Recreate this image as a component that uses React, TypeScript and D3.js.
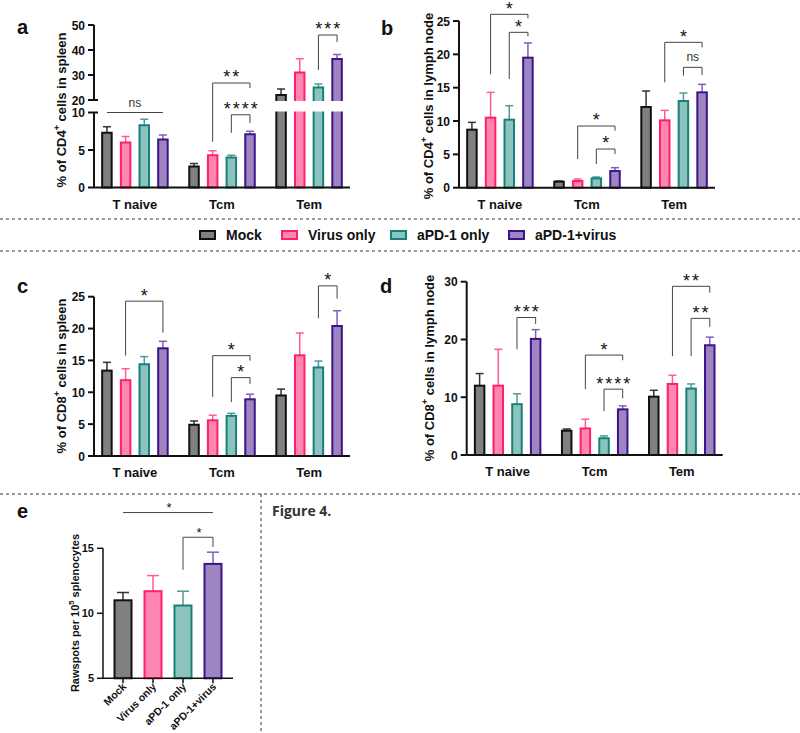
import React from "react";
import * as d3 from "d3";

const FONT = "'Liberation Sans', Arial, Helvetica, sans-serif";

// treatment groups and T cell subsets
const groups = ["Mock", "Virus only", "aPD-1 only", "aPD-1+virus"];
const subsets = ["T naive", "Tcm", "Tem"];

const fills = ["#808080", "#ff85b3", "#8cc3bf", "#9e85c2"];
const strokes = ["#111111", "#ff1f6b", "#18807a", "#3b1488"];
const errColors = ["#333333", "#ff5c92", "#4a9c97", "#7e60b8"];

// a: % of CD4+ cells in spleen  [subset][group]
const cd4SpleenMean = [
  [7.3, 6.0, 8.3, 6.4],
  [2.8, 4.3, 4.0, 7.1],
  [22.0, 31.0, 25.0, 36.4],
];
const cd4SpleenSem = [
  [0.8, 0.8, 0.8, 0.6],
  [0.4, 0.6, 0.3, 0.4],
  [2.4, 5.5, 1.4, 1.8],
];

// b: % of CD4+ cells in lymph node
const cd4LnMean = [
  [8.7, 10.5, 10.2, 19.5],
  [0.9, 1.0, 1.4, 2.5],
  [12.1, 10.1, 13.0, 14.3],
];
const cd4LnSem = [
  [1.1, 3.8, 2.1, 2.2],
  [0.1, 0.3, 0.2, 0.5],
  [2.4, 1.5, 1.2, 1.2],
];

// c: % of CD8+ cells in spleen
const cd8SpleenMean = [
  [13.4, 11.9, 14.4, 16.9],
  [4.9, 5.6, 6.3, 8.9],
  [9.5, 15.8, 13.9, 20.4],
];
const cd8SpleenSem = [
  [1.3, 1.8, 1.2, 1.1],
  [0.6, 0.8, 0.4, 0.8],
  [1.0, 3.5, 1.0, 2.4],
];

// d: % of CD8+ cells in lymph node
const cd8LnMean = [
  [12.0, 12.0, 8.8, 20.1],
  [4.2, 4.6, 2.9, 7.9],
  [10.1, 12.3, 11.5, 19.0],
];
const cd8LnSem = [
  [2.1, 6.3, 1.8, 1.6],
  [0.3, 1.6, 0.4, 0.6],
  [1.1, 1.5, 0.8, 1.4],
];

// e: rawspots per 10^5 splenocytes
const rawspotsMean = [11.0, 11.7, 10.6, 13.8];
const rawspotsSem = [0.6, 1.2, 1.1, 0.9];

// significance brackets (values in data units)
type Sig = { sub: number; from: number; to: number; at: number; legL: number; legR: number; label: string };

const cd4SpleenSig: Sig[] = [
  { sub: 0, from: 0, to: 3, at: 10, legL: 10, legR: 10, label: "ns" },
  { sub: 1, from: 1, to: 3, at: 26.8, legL: 6.1, legR: 24.8, label: "**" },
  { sub: 1, from: 2, to: 3, at: 9.7, legL: 7.3, legR: 8.6, label: "****" },
  { sub: 2, from: 2, to: 3, at: 46, legL: 32, legR: 43.2, label: "***" },
];
const cd4LnSig: Sig[] = [
  { sub: 0, from: 1, to: 3, at: 26.0, legL: 17.0, legR: 25.4, label: "*" },
  { sub: 0, from: 2, to: 3, at: 23.3, legL: 16.3, legR: 22.7, label: "*" },
  { sub: 1, from: 1, to: 3, at: 9.25, legL: 4.3, legR: 8.55, label: "*" },
  { sub: 1, from: 2, to: 3, at: 5.8, legL: 3.55, legR: 5.05, label: "*" },
  { sub: 2, from: 1, to: 3, at: 21.8, legL: 15.8, legR: 21.05, label: "*" },
  { sub: 2, from: 2, to: 3, at: 18.05, legL: 16.8, legR: 16.9, label: "ns" },
];
const cd8SpleenSig: Sig[] = [
  { sub: 0, from: 1, to: 3, at: 24.3, legL: 15.75, legR: 19.35, label: "*" },
  { sub: 1, from: 1, to: 3, at: 15.75, legL: 9.3, legR: 14.96, label: "*" },
  { sub: 1, from: 2, to: 3, at: 12.3, legL: 8.45, legR: 11.3, label: "*" },
  { sub: 2, from: 2, to: 3, at: 26.7, legL: 21.6, legR: 24.7, label: "*" },
];
const cd8LnSig: Sig[] = [
  { sub: 0, from: 2, to: 3, at: 23.8, legL: 18.3, legR: 22.7, label: "***" },
  { sub: 1, from: 1, to: 3, at: 17.3, legL: 11.4, legR: 16.4, label: "*" },
  { sub: 1, from: 2, to: 3, at: 11.4, legL: 7.6, legR: 9.8, label: "****" },
  { sub: 2, from: 1, to: 3, at: 29.2, legL: 17.1, legR: 28.1, label: "**" },
  { sub: 2, from: 2, to: 3, at: 23.65, legL: 17.1, legR: 22.2, label: "**" },
];
const rawspotsSig: Sig[] = [
  { sub: 0, from: 0, to: 3, at: 17.75, legL: 17.75, legR: 17.75, label: "*" },
  { sub: 0, from: 2, to: 3, at: 15.85, legL: 13.35, legR: 15.1, label: "*" },
];

const AXIS_W = 256;

function SigLabel({ x, y, label, size }: { x: number; y: number; label: string; size: number }) {
  if (label === "ns") {
    return (
      <text x={x} y={y + 4} textAnchor="middle" fontSize={12} fill="#333" fontFamily={FONT}>
        ns
      </text>
    );
  }
  // asterisks sit high in the em box, push baseline down
  return (
    <text x={x + 1} y={y + size * 0.58} textAnchor="middle" fontSize={size} fill="#111"
      fontFamily={FONT} letterSpacing={size > 14 ? 2 : 0}>
      {label}
    </text>
  );
}

interface PanelProps {
  x0: number;
  y: (v: number) => number;
  segments: [number, number][];
  ticks: number[];
  mean: number[][];
  sem: number[][];
  sig: Sig[];
  gap?: [number, number];
  labelX: number;
  labelCenter: number;
  labelA: string;
  labelB: string;
}

function Panel(p: PanelProps) {
  const xs = d3.scalePoint<string>().domain(subsets).range([p.x0, p.x0 + AXIS_W]).padding(0.47);
  const xo = d3.scalePoint<string>().domain(groups).range([-28, 28]);
  const cx = (s: number, g: number) => (xs(subsets[s]) as number) + (xo(groups[g]) as number);
  const base = p.y(0);
  const bw = 9.5;

  return (
    <g fontFamily={FONT}>
      {p.mean.map((row, s) =>
        row.map((v, g) => {
          const x = cx(s, g);
          const top = p.y(v);
          const et = p.y(v + p.sem[s][g]);
          return (
            <g key={`${s}-${g}`}>
              <line x1={x} x2={x} y1={top} y2={et} stroke={errColors[g]} strokeWidth={1.5} />
              <line x1={x - 4} x2={x + 4} y1={et} y2={et} stroke={errColors[g]} strokeWidth={1.5} />
              <rect x={x - bw / 2} y={top} width={bw} height={base - top} fill={fills[g]}
                stroke={strokes[g]} strokeWidth={2} />
            </g>
          );
        })
      )}
      {p.gap && (
        <rect x={p.x0 + 1} y={p.y(p.gap[1]) + 1} width={AXIS_W}
          height={p.y(p.gap[0]) - p.y(p.gap[1]) - 2} fill="#fff" />
      )}
      {/* y axis */}
      {p.segments.map(([lo, hi], i) => (
        <line key={i} x1={p.x0} x2={p.x0} y1={p.y(lo)} y2={p.y(hi)} stroke="#111" strokeWidth={2} />
      ))}
      {p.ticks.map((t) => {
        const brk = p.gap && (t === p.gap[0] || t === p.gap[1]);
        return (
          <g key={t}>
            <line x1={p.x0 - 6} x2={brk ? p.x0 + 4 : p.x0} y1={p.y(t)} y2={p.y(t)} stroke="#111" strokeWidth={2} />
            <text x={p.x0 - 9} y={p.y(t) + 4.5} textAnchor="end" fontSize={12} fontWeight="bold" fill="#111">
              {t}
            </text>
          </g>
        );
      })}
      {/* x axis */}
      <line x1={p.x0} x2={p.x0 + AXIS_W} y1={base} y2={base} stroke="#111" strokeWidth={2} />
      {subsets.map((s) => (
        <text key={s} x={xs(s)} y={base + 21} textAnchor="middle" fontSize={13} fontWeight="bold" fill="#111">
          {s}
        </text>
      ))}
      {/* axis title */}
      <text transform={`translate(${p.labelX},${p.labelCenter}) rotate(-90)`} textAnchor="middle"
        fontSize={13} fontWeight="bold" fill="#111">
        {p.labelA}
        <tspan fontSize={9} dy={-6}>+</tspan>
        <tspan dy={6}>{p.labelB}</tspan>
      </text>
      {/* significance */}
      {p.sig.map((b, i) => {
        const xl = cx(b.sub, b.from);
        const xr = cx(b.sub, b.to);
        const yb = p.y(b.at);
        return (
          <g key={i}>
            <path d={`M${xl},${p.y(b.legL)}V${yb}H${xr}V${p.y(b.legR)}`} fill="none" stroke="#444" strokeWidth={1} />
            <SigLabel x={(xl + xr) / 2} y={yb - 10} label={b.label} size={b.label === "ns" ? 12 : 18} />
          </g>
        );
      })}
    </g>
  );
}

function PanelE() {
  const x = d3.scalePoint<string>().domain(groups).range([103, 233]).padding(0.667);
  const y = d3.scaleLinear().domain([5, 15]).range([678.3, 548.3]);
  const base = y(5);
  const bw = 17;
  return (
    <g fontFamily={FONT}>
      {rawspotsMean.map((v, g) => {
        const c = x(groups[g]) as number;
        const et = y(v + rawspotsSem[g]);
        return (
          <g key={g}>
            <line x1={c} x2={c} y1={y(v)} y2={et} stroke={errColors[g]} strokeWidth={1.5} />
            <line x1={c - 6} x2={c + 6} y1={et} y2={et} stroke={errColors[g]} strokeWidth={1.5} />
            <rect x={c - bw / 2} y={y(v)} width={bw} height={base - y(v)} fill={fills[g]} stroke={strokes[g]} strokeWidth={2} />
          </g>
        );
      })}
      <line x1={103} x2={103} y1={y(5)} y2={y(15)} stroke="#111" strokeWidth={1.5} />
      {[5, 10, 15].map((t) => (
        <g key={t}>
          <line x1={97} x2={103} y1={y(t)} y2={y(t)} stroke="#111" strokeWidth={1.5} />
          <text x={94} y={y(t) + 4} textAnchor="end" fontSize={11} fontWeight="bold" fill="#111">{t}</text>
        </g>
      ))}
      <line x1={103} x2={233} y1={base} y2={base} stroke="#111" strokeWidth={1.5} />
      {groups.map((g) => (
        <g key={g}>
          <line x1={x(g)} x2={x(g)} y1={base} y2={base + 5} stroke="#111" strokeWidth={1.5} />
          <text transform={`translate(${(x(g) as number) + 4},${base + 9}) rotate(-45)`} textAnchor="end"
            fontSize={10.5} fontWeight="bold" fill="#111">
            {g}
          </text>
        </g>
      ))}
      <text transform={`translate(79,613) rotate(-90)`} textAnchor="middle" fontSize={11} fontWeight="bold" fill="#111">
        Rawspots per 10<tspan fontSize={7.5} dy={-5}>5</tspan>
        <tspan dy={5}> splenocytes</tspan>
      </text>
      {rawspotsSig.map((b, i) => {
        const xl = x(groups[b.from]) as number;
        const xr = x(groups[b.to]) as number;
        const yb = y(b.at);
        return (
          <g key={i}>
            <path d={`M${xl},${y(b.legL)}V${yb}H${xr}V${y(b.legR)}`} fill="none" stroke="#444" strokeWidth={1} />
            <SigLabel x={(xl + xr) / 2} y={yb - 8} label={b.label} size={13} />
          </g>
        );
      })}
    </g>
  );
}

const legendX = [199, 281, 390, 508];

export default function App() {
  const lowerA = d3.scaleLinear().domain([0, 10]).range([187.5, 112.5]);
  const gapA = d3.scaleLinear().domain([10, 20]).range([112.5, 100]);
  const upperA = d3.scaleLinear().domain([20, 50]).range([100, 25]);
  const yA = (v: number) => (v <= 10 ? lowerA(v) : v >= 20 ? upperA(v) : gapA(v));
  const yB = d3.scaleLinear().domain([0, 25]).range([187.7, 21]);
  const yC = d3.scaleLinear().domain([0, 25]).range([456, 296.7]);
  const yD = d3.scaleLinear().domain([0, 30]).range([455, 281.7]);

  const letter = (t: string, x: number, y: number) => (
    <text x={x} y={y} fontSize={20} fontWeight="bold" fontFamily={FONT} fill="#111">{t}</text>
  );

  return (
    <svg width={800} height={733} style={{ position: "absolute", left: 0, top: 0, background: "#fff" }}>
      <rect width={800} height={733} fill="#fff" />
      {letter("a", 17, 33.5)}
      {letter("b", 381, 35)}
      {letter("c", 17, 293.3)}
      {letter("d", 380, 293.3)}
      {letter("e", 17, 517.5)}

      <Panel x0={94} y={yA} segments={[[0, 10], [20, 50]]} ticks={[0, 5, 10, 20, 30, 40, 50]}
        mean={cd4SpleenMean} sem={cd4SpleenSem} sig={cd4SpleenSig} gap={[10, 20]}
        labelX={66} labelCenter={110} labelA="% of CD4" labelB=" cells in spleen" />
      <Panel x0={459} y={yB} segments={[[0, 25]]} ticks={[0, 5, 10, 15, 20, 25]}
        mean={cd4LnMean} sem={cd4LnSem} sig={cd4LnSig}
        labelX={433} labelCenter={106} labelA="% of CD4" labelB=" cells in lymph node" />
      <Panel x0={94} y={yC} segments={[[0, 25]]} ticks={[0, 5, 10, 15, 20, 25]}
        mean={cd8SpleenMean} sem={cd8SpleenSem} sig={cd8SpleenSig}
        labelX={66} labelCenter={376} labelA="% of CD8" labelB=" cells in spleen" />
      <Panel x0={466.7} y={yD} segments={[[0, 30]]} ticks={[0, 10, 20, 30]}
        mean={cd8LnMean} sem={cd8LnSem} sig={cd8LnSig}
        labelX={434} labelCenter={368} labelA="% of CD8" labelB=" cells in lymph node" />
      <PanelE />

      {/* dividers */}
      <line x1={0} x2={800} y1={219} y2={219} stroke="#333" strokeDasharray="3,3" />
      <line x1={0} x2={800} y1={251} y2={251} stroke="#333" strokeDasharray="3,3" />
      <line x1={0} x2={800} y1={494} y2={494} stroke="#333" strokeDasharray="3,3" />
      <line x1={261} x2={261} y1={494} y2={733} stroke="#333" strokeDasharray="3,3" />

      {/* legend */}
      {groups.map((g, i) => (
        <g key={g} fontFamily={FONT}>
          <rect x={legendX[i] + 1} y={231} width={15} height={8} fill={fills[i]} stroke={strokes[i]} strokeWidth={2} />
          <text x={legendX[i] + 27} y={240} fontSize={14} fontWeight="bold" fill="#111">{g}</text>
        </g>
      ))}

      <text x={272} y={516} fontSize={14} fontWeight="bold" fontFamily="'Open Sans', 'Noto Sans', sans-serif" fill="#333">
        Figure 4.
      </text>
    </svg>
  );
}
